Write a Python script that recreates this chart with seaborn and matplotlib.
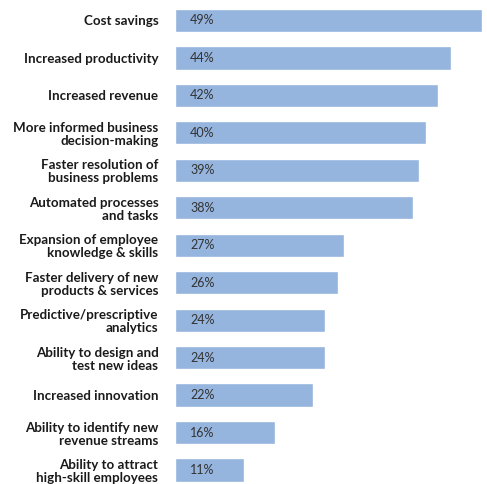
import matplotlib
matplotlib.use("Agg")
import matplotlib.pyplot as plt
import seaborn as sns
import pandas as pd

categories = [
    "Cost savings",
    "Increased productivity",
    "Increased revenue",
    "More informed business\ndecision-making",
    "Faster resolution of\nbusiness problems",
    "Automated processes\nand tasks",
    "Expansion of employee\nknowledge & skills",
    "Faster delivery of new\nproducts & services",
    "Predictive/prescriptive\nanalytics",
    "Ability to design and\ntest new ideas",
    "Increased innovation",
    "Ability to identify new\nrevenue streams",
    "Ability to attract\nhigh-skill employees",
]
values = [49, 44, 42, 40, 39, 38, 27, 26, 24, 24, 22, 16, 11]

df = pd.DataFrame({"category": categories, "value": values})

sns.set_theme(style="white")
plt.rcParams["font.family"] = ["Lato", "DejaVu Sans"]

W, H = 487, 484
fig = plt.figure(figsize=(W / 100, H / 100), dpi=100)
ax = fig.add_axes([175 / W, 0, 307 / W, 1])

sns.barplot(data=df, x="value", y="category", orient="h", color="#95b4de",
            saturation=1, width=0.62, ax=ax)

ax.set_xlim(0, 49)
step = 37.46
ax.set_ylim(12 + 14 / step, -20.5 / step)

for i, v in enumerate(values):
    ax.text(15 / 307 * 49, i, f"{v}%", va="center", ha="left",
            fontsize=9, color="#333333", family=["Lato", "DejaVu Sans"])

ax.set_xlabel("")
ax.set_ylabel("")
ax.set_xticks([])
ax.set_yticks(range(len(categories)))
ax.set_yticklabels(categories, fontsize=9.6, fontweight="bold", color="#1a1a1a",
                   linespacing=1.1, multialignment="right")
ax.tick_params(axis="y", length=0, pad=12)
for s in ax.spines.values():
    s.set_visible(False)

fig.savefig("out.png", dpi=100)
